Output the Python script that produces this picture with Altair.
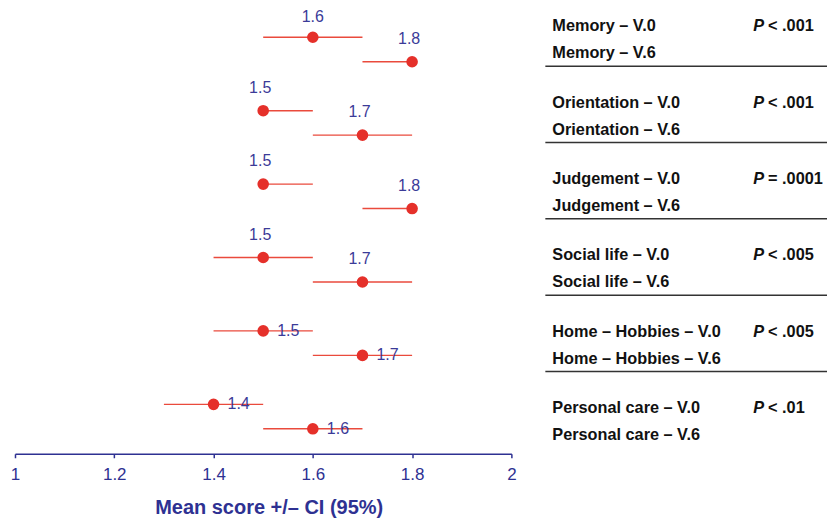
import altair as alt
import pandas as pd

domains = ["Memory", "Orientation", "Judgement", "Social life", "Home – Hobbies", "Personal care"]
v0_mean = [1.6, 1.5, 1.5, 1.5, 1.5, 1.4]
v0_lo = [1.5, 1.5, 1.5, 1.4, 1.4, 1.3]
v0_hi = [1.7, 1.6, 1.6, 1.6, 1.6, 1.5]
v6_mean = [1.8, 1.7, 1.8, 1.7, 1.7, 1.6]
v6_lo = [1.7, 1.6, 1.7, 1.6, 1.6, 1.5]
v6_hi = [1.8, 1.8, 1.8, 1.8, 1.8, 1.7]
p_values = ["< .001", "< .001", "= .0001", "< .005", "< .005", "< .01"]
label_side = ["above", "above", "above", "above", "right", "right"]
visits = ["V.0", "V.6"]
x_ticks = [1, 1.2, 1.4, 1.6, 1.8, 2]

BLUE = "#2e3192"
LBLUE = "#3b3b98"
RED = "#e5302a"
LRED = "#ea4a3c"
FONT = "Liberation Sans"

rows = []
for k, d in enumerate(domains):
    for j, (m, lo, hi) in enumerate([(v0_mean[k], v0_lo[k], v0_hi[k]),
                                      (v6_mean[k], v6_lo[k], v6_hi[k])]):
        rows.append(dict(domain=d, visit=visits[j], mean=m, lo=lo, hi=hi,
                         row=3 * k + j, label=f"{m:.1f}", side=label_side[k]))
df = pd.DataFrame(rows)

# table layout (in row units of the shared y scale)
T0, TSTEP, TV6, TSEP = -0.45, 3.12, 1.10, 1.63
trows = []
for k, d in enumerate(domains):
    for j, v in enumerate(visits):
        trows.append(dict(text=f"{d} – {v}", trow=T0 + TSTEP * k + TV6 * j))
tdf = pd.DataFrame(trows)
pdf = pd.DataFrame(dict(p=p_values, trow=[T0 + TSTEP * k for k in range(len(domains))]))
sdf = pd.DataFrame(dict(trow=[T0 + TSTEP * k + TSEP for k in range(len(domains) - 1)]))

yscale = alt.Scale(domain=[-1.061, 17.02], reverse=True, nice=False, zero=False)
xscale = alt.Scale(domain=[1, 2], nice=False, zero=False)

base = alt.Chart(df)
x_axis = alt.Axis(values=x_ticks, format=".1~f", labelFlush=False, grid=False,
                  domainColor=BLUE, domainWidth=1.5, tickColor=BLUE, tickWidth=1.5,
                  tickSize=4, labelColor=BLUE, labelFont=FONT, labelFontSize=17,
                  labelPadding=9, title="Mean score +/– CI (95%)", titleColor=BLUE,
                  titleFont=FONT, titleFontSize=20, titleFontWeight="bold",
                  titlePadding=15, titleX=254)

ci = base.mark_rule(color=LRED, strokeWidth=1.4).encode(
    x=alt.X("lo:Q", scale=xscale, axis=x_axis),
    x2="hi:Q",
    y=alt.Y("row:Q", scale=yscale, axis=None),
)
pts = base.mark_circle(size=135, color=RED, opacity=1).encode(
    x=alt.X("mean:Q", scale=xscale),
    y=alt.Y("row:Q", scale=yscale),
)
txt_style = dict(baseline="middle", color=LBLUE, font=FONT, fontSize=16)
lab_first = base.transform_filter(alt.datum.row == 0).mark_text(
    dy=-20, dx=0, align="center", **txt_style).encode(
    x=alt.X("mean:Q", scale=xscale), y=alt.Y("row:Q", scale=yscale), text="label:N")
lab_above = base.transform_filter(
    (alt.datum.side == "above") & (alt.datum.row != 0)).mark_text(
    dy=-23, dx=-3, align="center", **txt_style).encode(
    x=alt.X("mean:Q", scale=xscale), y=alt.Y("row:Q", scale=yscale), text="label:N")
lab_right = base.transform_filter(alt.datum.side == "right").mark_text(
    dx=14, align="left", **txt_style).encode(
    x=alt.X("mean:Q", scale=xscale), y=alt.Y("row:Q", scale=yscale), text="label:N")

TFS = 16.3
names = alt.Chart(tdf).mark_text(align="left", baseline="middle", font=FONT,
                                 fontSize=TFS, fontWeight="bold", color="#111111").encode(
    x=alt.value(538), y=alt.Y("trow:Q", scale=yscale), text="text:N")
pch = alt.Chart(pdf).mark_text(align="right", baseline="middle", font=FONT,
                               fontSize=TFS, fontWeight="bold", fontStyle="italic",
                               color="#111111", text="P").encode(
    x=alt.value(750), y=alt.Y("trow:Q", scale=yscale))
prest = alt.Chart(pdf).mark_text(align="left", baseline="middle", font=FONT,
                                 fontSize=TFS, fontWeight="bold", color="#111111").encode(
    x=alt.value(754), y=alt.Y("trow:Q", scale=yscale), text="p:N")
seps = alt.Chart(sdf).mark_rule(color="#333333", strokeWidth=1.5).encode(
    x=alt.value(531), x2=alt.value(813), y=alt.Y("trow:Q", scale=yscale))

chart = alt.layer(ci, pts, lab_first, lab_above, lab_right, seps, names, pch, prest).properties(
    width=497, height=443,
    padding={"left": 2, "top": 0, "right": 0, "bottom": 0}
).configure_view(stroke=None)

chart.save("out.html", embed_options={"renderer": "svg", "actions": False})
